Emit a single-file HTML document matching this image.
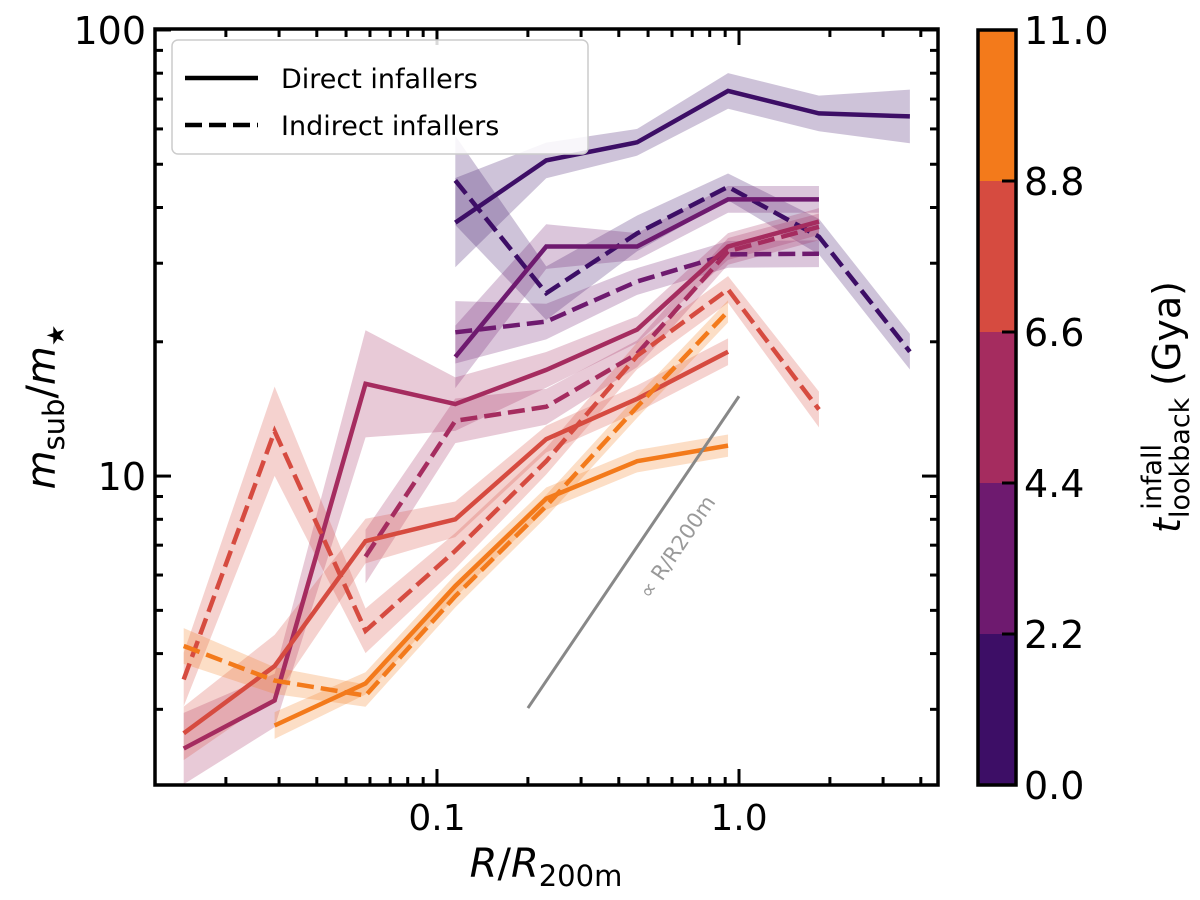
<!DOCTYPE html>
<html><head><meta charset="utf-8"><style>
body{margin:0;background:#fff;}
svg{display:block;font-family:"DejaVu Sans","Liberation Sans",sans-serif;}
</style></head><body>
<svg id="chart" width="1200" height="900" viewBox="0 0 1200 900" xmlns="http://www.w3.org/2000/svg">
<g id="bands"></g>
<g id="lines"></g>
<g id="axes"></g>
</svg>
<script>
const xBase = [0.0145,0.029,0.058,0.115,0.23,0.46,0.92,1.84,3.68];
const colors = ["#3d0e66","#6e1a6f","#a52c5f","#d64b40","#f37a1b"];
const seriesStart = [3,3,3,3,0,2,0,0,1,0];
const seriesColor = [0,0,1,1,2,2,3,3,4,4];
const seriesDash = [false,true,false,true,false,true,false,true,false,true];
const seriesY = [
 [37,51,56,73,65,64],
 [46,25.7,35,44.5,34.4,19],
 [18.5,32.7,32.7,41.7,41.7],
 [21,22.2,27.3,31.4,31.5],
 [2.45,3.14,16.1,14.5,17.3,21.3,32.7,37.2],
 [6.6,13.3,14.3,18.8,31.9,36.2],
 [2.65,3.75,7.15,8.0,12.1,14.9,19],
 [3.5,12.6,4.5,6.8,10.8,18.6,26.2,14.1],
 [2.76,3.43,5.67,8.9,10.8,11.7],
 [4.16,3.48,3.22,5.38,8.57,14.3,23.4]
];
const seriesErr = [
 [0.1,0.04,0.03,0.04,0.04,0.06],
 [0.1,0.06,0.04,0.03,0.04,0.04],
 [0.07,0.05,0.03,0.03,0.03],
 [0.07,0.04,0.03,0.03,0.03],
 [0.08,0.06,0.12,0.06,0.04,0.03,0.03,0.03],
 [0.06,0.05,0.04,0.03,0.03,0.03],
 [0.06,0.07,0.05,0.04,0.03,0.03,0.03],
 [0.06,0.1,0.05,0.04,0.03,0.03,0.03,0.04],
 [0.03,0.025,0.025,0.025,0.025,0.025],
 [0.04,0.03,0.025,0.025,0.025,0.025,0.025]
];
const refX = [0.2,1.0];
const refY = [3.02,15.1];
const xTicks = [0.1,1.0];
const xTickLabels = ["0.1","1.0"];
const yTicks = [10,100];
const yTickLabels = ["10","100"];
const cbTicks = [0.0,2.2,4.4,6.6,8.8,11.0];

const L=155,R=938,T=29,B=785;
const xMin=0.01165,xMax=4.56,yMin=2.03,yMax=100.5;
const X=v=>L+(Math.log10(v)-Math.log10(xMin))/(Math.log10(xMax)-Math.log10(xMin))*(R-L);
const Y=v=>B-(Math.log10(v)-Math.log10(yMin))/(Math.log10(yMax)-Math.log10(yMin))*(B-T);
const NS="http://www.w3.org/2000/svg";
function mk(tag,attrs,parent){const e=document.createElementNS(NS,tag);for(const k in attrs)e.setAttribute(k,attrs[k]);parent.appendChild(e);return e;}
const svg=document.getElementById('chart');
const bands=document.getElementById('bands'),lines=document.getElementById('lines'),axes=document.getElementById('axes');
const cp=mk('clipPath',{id:'clip'},svg);
mk('rect',{x:L,y:T,width:R-L,height:B-T},cp);
bands.setAttribute('clip-path','url(#clip)');lines.setAttribute('clip-path','url(#clip)');

seriesY.forEach((ys,s)=>{
  const col=colors[seriesColor[s]];
  const up=[],lo=[],pts=[];
  ys.forEach((v,i)=>{const x=X(xBase[seriesStart[s]+i]);const e=seriesErr[s][i];
    up.push(x+','+Y(v*Math.pow(10,e)));lo.unshift(x+','+Y(v/Math.pow(10,e)));pts.push(x+','+Y(v));});
  const b=mk('polygon',{points:up.concat(lo).join(' '),fill:col,'fill-opacity':0.25},bands);
  
  
  const l=mk('polyline',{points:pts.join(' '),fill:'none',stroke:col,'stroke-width':4.5,'stroke-linejoin':'miter'},lines);
  if(seriesDash[s]) l.setAttribute('stroke-dasharray','17,7');
  
  
});
const rl=mk('line',{x1:X(refX[0]),y1:Y(refY[0]),x2:X(refX[1]),y2:Y(refY[1]),stroke:'#888','stroke-width':3},lines);


const rt=mk('text',{x:0,y:0,fill:'#999','font-size':21,transform:'translate(650,600) rotate(-56)'},axes);
rt.textContent='∝ R/R200m';



const fr=mk('rect',{x:L,y:T,width:R-L,height:B-T,fill:'none',stroke:'#000','stroke-width':3.5},axes);


for(let d=-2;d<=1;d++)for(let m=1;m<10;m++){const v=m*Math.pow(10,d);if(v<xMin||v>xMax)continue;const x=X(v);const len=m==1?16:8;
  mk('line',{x1:x,y1:B,x2:x,y2:B-len,stroke:'#000','stroke-width':3},axes);mk('line',{x1:x,y1:T,x2:x,y2:T+len,stroke:'#000','stroke-width':3},axes);}
for(let d=0;d<=2;d++)for(let m=1;m<10;m++){const v=m*Math.pow(10,d);if(v<yMin||v>yMax)continue;const y=Y(v);const len=m==1?16:8;
  mk('line',{x1:L,y1:y,x2:L+len,y2:y,stroke:'#000','stroke-width':3},axes);mk('line',{x1:R,y1:y,x2:R-len,y2:y,stroke:'#000','stroke-width':3},axes);}
xTicks.forEach((v,i)=>{const t=mk('text',{x:X(v),y:830,'font-size':36,'text-anchor':'middle'},axes);t.textContent=xTickLabels[i];
  
  });
yTicks.forEach((v,i)=>{const t=mk('text',{x:146,y:Y(v)+14,'font-size':38,'text-anchor':'end'},axes);t.textContent=yTickLabels[i];
  
  });
const cL=978,cR=1016,cT=30,cB=785;
const CY=v=>cB-(v/11)*(cB-cT);
for(let i=0;i<5;i++){const r=mk('rect',{x:cL,y:CY(cbTicks[i+1]),width:cR-cL,height:CY(cbTicks[i])-CY(cbTicks[i+1]),fill:colors[i]},axes);
  
  }
mk('rect',{x:cL,y:cT,width:cR-cL,height:cB-cT,fill:'none',stroke:'#000','stroke-width':3.5},axes);
cbTicks.forEach(v=>{const y=CY(v);mk('line',{x1:cR,y1:y,x2:cR-14,y2:y,stroke:'#000','stroke-width':3},axes);
  const t=mk('text',{x:1024,y:y+14,'font-size':38},axes);t.textContent=v.toFixed(1);
  
  });
</script>
<svg style="position:absolute;left:0;top:0" width="1200" height="900" xmlns="http://www.w3.org/2000/svg" font-family="DejaVu Sans, Liberation Sans, sans-serif">
<g>
<rect x="172" y="40" width="416" height="114" rx="6" fill="#fff" fill-opacity="0.85" stroke="#ccc" stroke-width="1.5"/>
<line x1="185" y1="78" x2="258" y2="78" stroke="#000" stroke-width="4.5"/>
<text x="281" y="88" font-size="27">Direct infallers</text>
<line x1="185" y1="125" x2="258" y2="125" stroke="#000" stroke-width="4.5" stroke-dasharray="17,7"/>
<text x="281" y="135" font-size="27">Indirect infallers</text>
</g>
<text x="546" y="877" font-size="40" text-anchor="middle"><tspan font-style="italic">R</tspan>/<tspan font-style="italic">R</tspan><tspan font-size="29" dy="9">200m</tspan></text>
<text transform="translate(55,407) rotate(-90)" font-size="40" text-anchor="middle"><tspan font-style="italic">m</tspan><tspan font-size="29" dy="9">sub</tspan><tspan dy="-9">/</tspan><tspan font-style="italic">m</tspan><tspan font-size="24" dy="9">★</tspan></text>
<text transform="translate(1180,407) rotate(-90)" font-size="38" text-anchor="middle"><tspan font-style="italic">t</tspan><tspan font-size="27" dy="9">lookback</tspan><tspan font-size="27" dx="-112" dy="-28">infall</tspan><tspan dx="46" dy="19"> (Gya)</tspan></text>
</svg>
</body></html>
